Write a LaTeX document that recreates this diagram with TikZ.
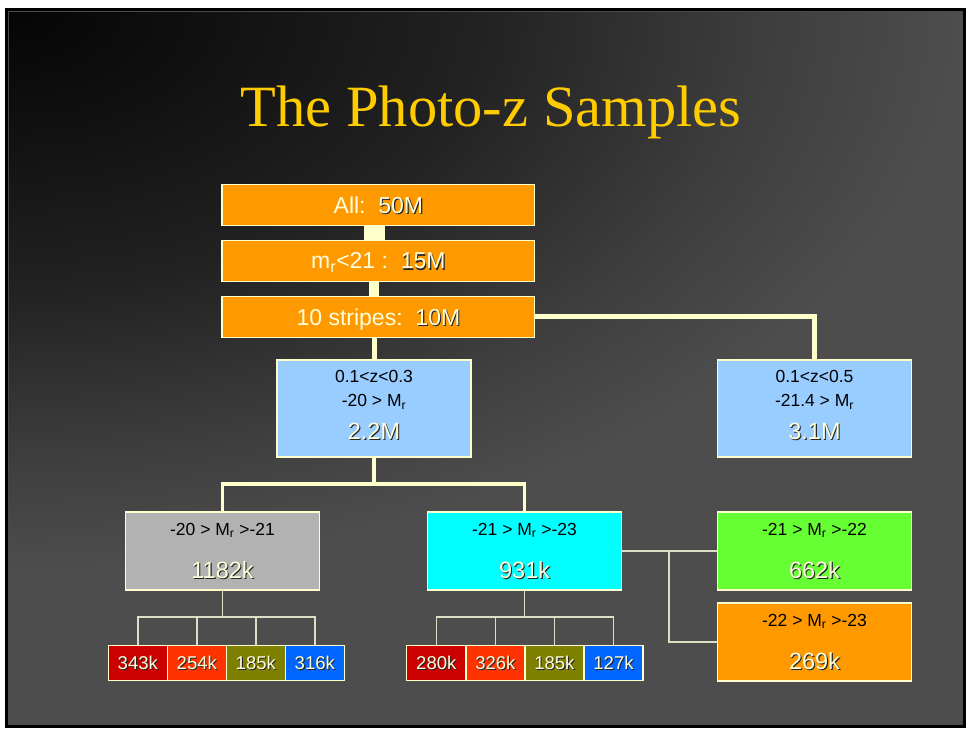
\documentclass[tikz,border=0pt]{standalone}
\usepackage{fontspec}
\setmainfont{Liberation Sans}
\newfontfamily\titlefont{Liberation Serif}
\usetikzlibrary{calc}

% slide background tones
\definecolor{bgA}{HTML}{050505}
\definecolor{bgB}{HTML}{101010}
\definecolor{bgC}{HTML}{222222}
\definecolor{bgD}{HTML}{3E3E3E}
\definecolor{bgE}{HTML}{4D4D4D}
\definecolor{frameline}{HTML}{4A4A4A}
% text and box colours
\definecolor{titlegold}{HTML}{FFCC00}
\definecolor{boxorange}{HTML}{FF9900}
\definecolor{boxblue}{HTML}{99CCFF}
\definecolor{boxgray}{HTML}{B2B2B2}
\definecolor{boxcyan}{HTML}{00FFFF}
\definecolor{boxgreen}{HTML}{66FF33}
\definecolor{cellred}{HTML}{CC0000}
\definecolor{cellorange}{HTML}{FF3300}
\definecolor{cellolive}{HTML}{808000}
\definecolor{cellblue}{HTML}{0066FF}
\definecolor{edgecream}{HTML}{FFFFCC}
\definecolor{linkcream}{HTML}{FFFFCC}
\definecolor{linkkhaki}{HTML}{DEDEC4}
\definecolor{numcream}{HTML}{FFFFDD}

% glow from the upper left corner; the inner 25bp spans the shaded box
\pgfdeclareradialshading{slideglow}{\pgfpoint{0bp}{0bp}}{%
  color(0bp)=(bgA); color(5bp)=(bgB); color(12.5bp)=(bgC);
  color(20bp)=(bgD); color(25bp)=(bgE); color(50bp)=(bgE)}

\pgfdeclarelayer{slide}
\pgfdeclarelayer{links}
\pgfsetlayers{slide,links,main}

% text with a small drop shadow
\newcommand{\shadowed}[1]{%
  \makebox[0pt][l]{\kern1.1pt\raisebox{-1.1pt}{\color{black!85}#1}}#1}

\tikzset{
  boxbase/.style={draw=edgecream, line width=1.2pt, inner sep=0pt, outer sep=0pt},
  topbox/.style={boxbase, fill=boxorange, minimum width=312.7pt,
    minimum height=41.2pt, text=numcream,
    font=\fontsize{23}{27}\selectfont, text height=16.5pt, text depth=0pt},
  midbox/.style={boxbase, minimum width=194pt, minimum height=97pt},
  lowbox/.style={boxbase, minimum width=193.6pt, minimum height=78pt},
  cellbox/.style={boxbase, minimum width=59pt, minimum height=35pt,
    text=numcream, font=\fontsize{18.5}{22}\selectfont,
    text height=13.3pt, text depth=0pt},
  condtext/.style={anchor=base, inner sep=0pt, text=black,
    font=\fontsize{17.5}{21}\selectfont},
  counttext/.style={anchor=base, inner sep=0pt, text=numcream,
    font=\fontsize{23.5}{28}\selectfont},
  thicklink/.style={draw=linkcream, line width=5pt},
  midlink/.style={draw=linkcream, line width=3.5pt},
  finelink/.style={draw=linkkhaki, line width=1.6pt},
}

\begin{document}
\begin{tikzpicture}[x=1pt, y=-1pt]
\useasboundingbox (0,0) rectangle (966,728);

% ---------- slide ----------
\begin{pgfonlayer}{slide}
  \fill[white] (0,0) rectangle (966,728);
  \begin{scope}
    \clip (8,10.5) rectangle (963.5,725);
    \fill[bgE] (8,10.5) rectangle (963.5,725);
    \shade[shading=slideglow] (-942,-550) rectangle (958,570);
  \end{scope}
  \draw[frameline, line width=1pt] (8.5,11) rectangle (963,724.5);
  \draw[black, line width=2.8pt] (6.5,9.25) rectangle (964.75,726.5);
  \foreach \k in {0,...,5}{
    \fill[black] (4.5,{26+120.4*\k}) rectangle (6.5,{36+120.4*\k});
    \fill[black] (4.5,{45+120.4*\k}) rectangle (6.5,{55+120.4*\k});
  }
\end{pgfonlayer}

% ---------- title ----------
\node[anchor=base, inner sep=0pt, text=titlegold,
      font=\titlefont\fontsize{58.5}{70}\selectfont] (title) at (491,126)
  {The Photo-z Samples};

% ---------- selection chain ----------
\node[topbox] (all)     at (378.4,205)   {All:\ \ \shadowed{50M}};
\node[topbox] (mr)      at (378.4,260.7) {m\textsubscript{r}<21 :\ \ \shadowed{15M}};
\node[topbox] (stripes) at (378.4,316.8) {10 stripes:\ \ \shadowed{10M}};

% ---------- redshift samples ----------
\node[midbox, fill=boxblue] (zlow)  at (374,408.5) {};
\node[midbox, fill=boxblue] (zhigh) at (814.5,408.5) {};
\node[condtext]  (zlowa)  at ($(zlow.north)+(0,22.3)$) {0.1<z<0.3};
\node[condtext]  (zlowb)  at ($(zlow.north)+(0,46.7)$) {-20 > M\textsubscript{r}};
\node[counttext] (zlowc)  at ($(zlow.north)+(0,79.3)$) {\shadowed{2.2M}};
\node[condtext]  (zhigha) at ($(zhigh.north)+(0,22.3)$) {0.1<z<0.5};
\node[condtext]  (zhighb) at ($(zhigh.north)+(0,46.7)$) {-21.4 > M\textsubscript{r}};
\node[counttext] (zhighc) at ($(zhigh.north)+(0,79.3)$) {\shadowed{3.1M}};

% ---------- magnitude bins ----------
\node[lowbox, fill=boxgray]   (faint)  at (222.5,551) {};
\node[lowbox, fill=boxcyan]   (bright) at (524.5,551) {};
\node[lowbox, fill=boxgreen]  (brA)    at (814.5,551) {};
\node[lowbox, fill=boxorange] (brB)    at (814.5,642) {};
\node[condtext]  (fainta)  at ($(faint.north)+(0,23)$)    {-20 > M\textsubscript{r} >-21};
\node[counttext] (faintb)  at ($(faint.north)+(0,66.3)$)  {\shadowed{1182k}};
\node[condtext]  (brighta) at ($(bright.north)+(0,23)$)   {-21 > M\textsubscript{r} >-23};
\node[counttext] (brightb) at ($(bright.north)+(0,66.3)$) {\shadowed{931k}};
\node[condtext]  (brAa)    at ($(brA.north)+(0,23)$)      {-21 > M\textsubscript{r} >-22};
\node[counttext] (brAb)    at ($(brA.north)+(0,66.3)$)    {\shadowed{662k}};
\node[condtext]  (brBa)    at ($(brB.north)+(0,23)$)      {-22 > M\textsubscript{r} >-23};
\node[counttext] (brBb)    at ($(brB.north)+(0,66.3)$)    {\shadowed{269k}};

% ---------- colour sub-samples ----------
\node[cellbox, fill=cellred]    (f1) at (137.8,663.2) {\shadowed{343k}};
\node[cellbox, fill=cellorange] (f2) at (196.8,663.2) {\shadowed{254k}};
\node[cellbox, fill=cellolive]  (f3) at (255.8,663.2) {\shadowed{185k}};
\node[cellbox, fill=cellblue]   (f4) at (314.8,663.2) {\shadowed{316k}};
\node[cellbox, fill=cellred]    (b1) at (436.3,663.2) {\shadowed{280k}};
\node[cellbox, fill=cellorange] (b2) at (495.4,663.2) {\shadowed{326k}};
\node[cellbox, fill=cellolive]  (b3) at (554.4,663.2) {\shadowed{185k}};
\node[cellbox, fill=cellblue]   (b4) at (613.5,663.2) {\shadowed{127k}};

% ---------- connectors ----------
\coordinate (zsplit) at (374,484);
\coordinate (bsplit) at (669,551);
\coordinate (fsplit) at (222.5,616.7);
\coordinate (csplit) at (524.5,616.7);

\begin{pgfonlayer}{links}
  \draw[linkcream, line width=21pt] (all.south -| zlow.north) -- (mr.north -| zlow.north);
  \draw[linkcream, line width=10pt] (mr.south -| zlow.north) -- (stripes.north -| zlow.north);
  \draw[thicklink] (stripes.south -| zlow.north) -- (zlow.north);
  \draw[thicklink] (stripes.east) -| (zhigh.north);

  \draw[midlink] (zlow.south) -- (zsplit);
  \draw[midlink] (faint.north) |- (zsplit) -| (bright.north);

  \draw[finelink] (bright.east) -- (brA.west);
  \draw[finelink] (bsplit) |- (brB.west);

  \draw[finelink] (faint.south) -- (fsplit);
  \draw[finelink] (f1.north) |- (fsplit) -| (f4.north);
  \draw[finelink] (f2.north) -- (f2.north |- fsplit);
  \draw[finelink] (f3.north) -- (f3.north |- fsplit);

  \draw[finelink] (bright.south) -- (csplit);
  \draw[finelink] (b1.north) |- (csplit) -| (b4.north);
  \draw[finelink] (b2.north) -- (b2.north |- csplit);
  \draw[finelink] (b3.north) -- (b3.north |- csplit);
\end{pgfonlayer}
\end{tikzpicture}
\end{document}
